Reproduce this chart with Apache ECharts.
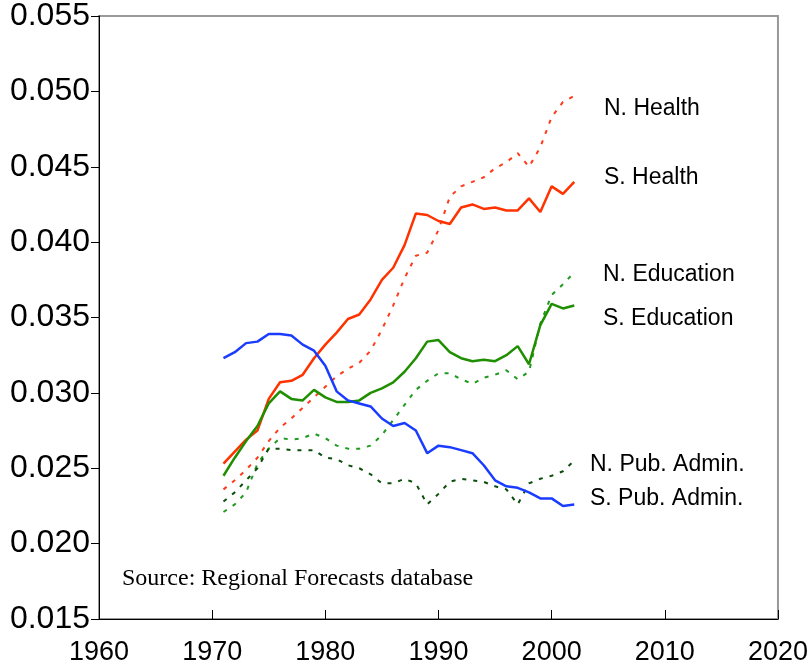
<!DOCTYPE html>
<html>
<head>
<meta charset="utf-8">
<script src="https://cdn.jsdelivr.net/npm/echarts@6/dist/echarts.min.js"></script>
<style>
  html, body { margin: 0; padding: 0; background: #fff; }
  #chart { width: 811px; height: 670px; }
</style>
</head>
<body>
<div id="chart"></div>
<script>
// years 1971..2002
const years = []
for (let y = 1971; y <= 2002; y++) years.push(y)

const nHealth = [0.0236, 0.0242, 0.0249, 0.0257, 0.0268, 0.0277, 0.0283, 0.0290, 0.0297, 0.0304,
  0.0311, 0.0316, 0.0320, 0.0328, 0.0342, 0.0358, 0.0376, 0.0391, 0.0393, 0.0408,
  0.0430, 0.0437, 0.0440, 0.0443, 0.0449, 0.0453, 0.0459, 0.0450, 0.0463, 0.0483,
  0.0493, 0.0497]
const sHealth = [0.0253, 0.0261, 0.0269, 0.0275, 0.0296, 0.0307, 0.0308, 0.0312, 0.0323, 0.0332,
  0.0340, 0.0349, 0.0352, 0.0362, 0.0375, 0.0383, 0.0398, 0.0419, 0.0418, 0.0414,
  0.0412, 0.0423, 0.0425, 0.0422, 0.0423, 0.0421, 0.0421, 0.0429, 0.0420, 0.0437,
  0.0432, 0.0440]
const nEducation = [0.0221, 0.0226, 0.0234, 0.0253, 0.0263, 0.0270, 0.0269, 0.0270, 0.0273, 0.0270,
  0.0265, 0.0263, 0.0263, 0.0265, 0.0272, 0.0282, 0.0292, 0.0302, 0.0308, 0.0313,
  0.0313, 0.0309, 0.0306, 0.0310, 0.0312, 0.0315, 0.0309, 0.0314, 0.0346, 0.0365,
  0.0372, 0.0380]
const sEducation = [0.0245, 0.0257, 0.0268, 0.0278, 0.0293, 0.0301, 0.0296, 0.0295, 0.0302, 0.0297,
  0.0294, 0.0294, 0.0295, 0.0300, 0.0303, 0.0307, 0.0314, 0.0323, 0.0334, 0.0335,
  0.0327, 0.0323, 0.0321, 0.0322, 0.0321, 0.0325, 0.0331, 0.0319, 0.0345, 0.0359,
  0.0356, 0.0358]
const nPubAdmin = [0.0228, 0.0234, 0.0242, 0.0250, 0.0263, 0.0263, 0.0262, 0.0262, 0.0262, 0.0257,
  0.0256, 0.0252, 0.0250, 0.0246, 0.0240, 0.0240, 0.0243, 0.0240, 0.0226, 0.0233,
  0.0241, 0.0243, 0.0242, 0.0241, 0.0238, 0.0236, 0.0226, 0.0240, 0.0243, 0.0245,
  0.0248, 0.0255]
const sPubAdmin = [0.0323, 0.0327, 0.0333, 0.0334, 0.0339, 0.0339, 0.0338, 0.0332, 0.0328, 0.0318,
  0.0301, 0.0295, 0.0293, 0.0291, 0.0283, 0.0278, 0.0280, 0.0275, 0.0260, 0.0265,
  0.0264, 0.0262, 0.0260, 0.0252, 0.0242, 0.0238, 0.0237, 0.0234, 0.0230, 0.0230,
  0.0225, 0.0226]

const seriesLabels = ['N. Health', 'S. Health', 'N. Education', 'S. Education', 'N. Pub. Admin.', 'S. Pub. Admin.']

const pair = arr => years.map((y, i) => [y, arr[i]])

function mkLine(name, arr, color, dotted) {
  return {
    name: name,
    type: 'line',
    data: pair(arr),
    symbol: 'none',
    silent: true,
    lineStyle: dotted
      ? { color: color, width: 2, type: [4, 7] }
      : { color: color, width: 2.5 },
  }
}

// label text on the right (left x, center y)
const labelPos = [
  [604, 107], [604, 176], [603, 273], [603, 317], [590, 463], [590, 497],
]

const chart = echarts.init(document.getElementById('chart'))
chart.setOption({
  animation: false,
  backgroundColor: '#fff',
  textStyle: { fontFamily: 'Liberation Sans, Arial, sans-serif' },
  grid: {
    left: 99, right: 29, top: 16, bottom: 51,
    show: true, borderColor: '#999', borderWidth: 2,
  },
  xAxis: {
    type: 'value',
    min: 1960, max: 2020, interval: 10,
    splitLine: { show: false },
    axisLine: { lineStyle: { color: '#000', width: 1 } },
    axisTick: { inside: true, length: 9, lineStyle: { color: '#000' } },
    axisLabel: { color: '#000', fontSize: 27, margin: 20, formatter: v => String(v) },
  },
  yAxis: {
    type: 'value',
    min: 0.015, max: 0.055, interval: 0.005,
    splitLine: { show: false },
    axisLine: { show: true, lineStyle: { color: '#000', width: 1 } },
    axisTick: { show: true, length: 8, lineStyle: { color: '#000' } },
    axisLabel: { color: '#000', fontSize: 32, margin: 9, formatter: v => v.toFixed(3) },
  },
  series: [
    mkLine(seriesLabels[0], nHealth, '#ff3a1a', true),
    mkLine(seriesLabels[1], sHealth, '#ff3300', false),
    mkLine(seriesLabels[2], nEducation, '#1e9a1e', true),
    mkLine(seriesLabels[3], sEducation, '#1f8f00', false),
    mkLine(seriesLabels[4], nPubAdmin, '#0b4d0b', true),
    mkLine(seriesLabels[5], sPubAdmin, '#1a3cff', false),
  ],
  graphic: seriesLabels.map((t, i) => ({
    type: 'text',
    left: labelPos[i][0],
    top: labelPos[i][1] - 10,
    style: { text: t, fill: '#000', fontSize: 23, fontFamily: 'Liberation Sans, Arial, sans-serif' },
  })).concat([{
    type: 'text',
    left: 122,
    top: 567,
    style: {
      text: 'Source: Regional Forecasts database',
      fill: '#000', fontSize: 24,
      fontFamily: 'Liberation Serif, Times New Roman, serif',
    },
  }]),
})
</script>
</body>
</html>
